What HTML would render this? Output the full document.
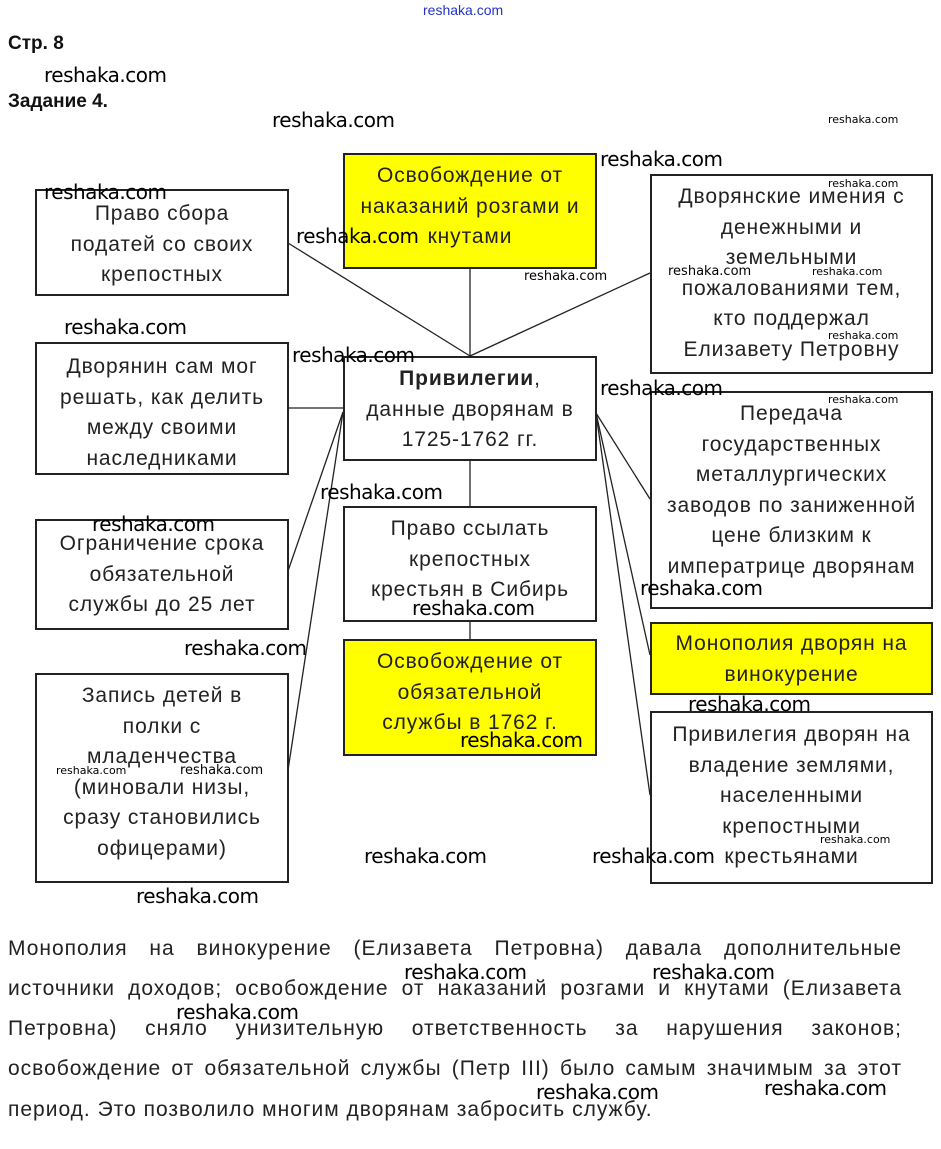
<!DOCTYPE html>
<html><head><meta charset="utf-8"><style>
html,body{margin:0;padding:0;background:#fff;}
body{width:941px;height:1149px;position:relative;overflow:hidden;font-family:"Liberation Sans",Arial,sans-serif;color:#111;}
.b{position:absolute;border:2px solid #222;box-sizing:border-box;background:#fff;text-align:center;font-size:21px;letter-spacing:0.9px;line-height:30.5px;color:#222;white-space:nowrap;}
.y{background:#ffff00;}
.w{position:absolute;font-family:"DejaVu Sans","Liberation Sans",sans-serif;font-size:20px;color:#000;white-space:nowrap;letter-spacing:-0.5px;}
.s{position:absolute;font-family:"DejaVu Sans","Liberation Sans",sans-serif;font-size:11px;color:#000;white-space:nowrap;}
.p{position:absolute;left:8px;width:894px;font-size:21px;letter-spacing:1px;line-height:28px;text-align:justify;text-align-last:justify;color:#222;white-space:nowrap;}
</style></head><body>
<div style="position:absolute;left:423px;top:2px;font-size:14px;color:#2233cc;">reshaka.com</div>
<div style="position:absolute;left:8px;top:33px;font-size:19px;font-weight:bold;">Стр. 8</div>
<div style="position:absolute;left:8px;top:91px;font-size:19px;font-weight:bold;">Задание 4.</div>

<svg style="position:absolute;left:0;top:0" width="941" height="1149">
<g stroke="#222" stroke-width="1.3" fill="none">
<line x1="288" y1="243" x2="470" y2="356"/>
<line x1="650" y1="273" x2="470" y2="356"/>
<line x1="470" y1="268" x2="470" y2="356"/>
<line x1="288" y1="408" x2="343" y2="408"/>
<line x1="343" y1="412" x2="288" y2="571"/>
<line x1="343" y1="412" x2="288" y2="770"/>
<line x1="470" y1="460" x2="470" y2="506"/>
<line x1="470" y1="621" x2="470" y2="639"/>
<line x1="596" y1="413" x2="650" y2="499"/>
<line x1="596" y1="413" x2="650" y2="655"/>
<line x1="596" y1="413" x2="650" y2="795"/>
</g></svg>

<div class="b" style="left:35px;top:189px;width:254px;height:107px;padding-top:8px;">Право сбора<br>податей со своих<br>крепостных</div>
<div class="b" style="left:35px;top:342px;width:254px;height:133px;padding-top:8px;">Дворянин сам мог<br>решать, как делить<br>между своими<br>наследниками</div>
<div class="b" style="left:35px;top:519px;width:254px;height:111px;padding-top:8px;">Ограничение срока<br>обязательной<br>службы до 25 лет</div>
<div class="b" style="left:35px;top:673px;width:254px;height:210px;padding-top:6px;">Запись детей в<br>полки с<br>младенчества<br>(миновали низы,<br>сразу становились<br>офицерами)</div>

<div class="b y" style="left:343px;top:153px;width:254px;height:116px;padding-top:6px;">Освобождение от<br>наказаний розгами и<br>кнутами</div>
<div class="b" style="left:343px;top:356px;width:254px;height:105px;padding-top:6px;"><b>Привилегии</b>,<br>данные дворянам в<br>1725-1762 гг.</div>
<div class="b" style="left:343px;top:506px;width:254px;height:116px;padding-top:6px;">Право ссылать<br>крепостных<br>крестьян в Сибирь</div>
<div class="b y" style="left:343px;top:639px;width:254px;height:117px;padding-top:6px;">Освобождение от<br>обязательной<br>службы в 1762 г.</div>

<div class="b" style="left:650px;top:174px;width:283px;height:200px;padding-top:6px;">Дворянские имения с<br>денежными и<br>земельными<br>пожалованиями тем,<br>кто поддержал<br>Елизавету Петровну</div>
<div class="b" style="left:650px;top:391px;width:283px;height:218px;padding-top:6px;">Передача<br>государственных<br>металлургических<br>заводов по заниженной<br>цене близким к<br>императрице дворянам</div>
<div class="b y" style="left:650px;top:622px;width:283px;height:73px;padding-top:5px;">Монополия дворян на<br>винокурение</div>
<div class="b" style="left:650px;top:711px;width:283px;height:173px;padding-top:7px;">Привилегия дворян на<br>владение землями,<br>населенными<br>крепостными<br>крестьянами</div>

<div class="p" style="top:935px;">Монополия на винокурение (Елизавета Петровна) давала дополнительные</div>
<div class="p" style="top:975px;">источники доходов; освобождение от наказаний розгами и кнутами (Елизавета</div>
<div class="p" style="top:1015px;">Петровна) сняло унизительную ответственность за нарушения законов;</div>
<div class="p" style="top:1055px;">освобождение от обязательной службы (Петр III) было самым значимым за этот</div>
<div class="p" style="top:1096px;text-align:left;text-align-last:left;">период. Это позволило многим дворянам забросить службу.</div>

<div class="w" style="left:44px;top:63px;">reshaka.com</div>
<div class="w" style="left:272px;top:108px;">reshaka.com</div>
<div class="s" style="left:828px;top:113px;">reshaka.com</div>
<div class="w" style="left:600px;top:147px;">reshaka.com</div>
<div class="w" style="left:44px;top:180px;">reshaka.com</div>
<div class="s" style="left:828px;top:177px;">reshaka.com</div>
<div class="w" style="left:296px;top:224px;">reshaka.com</div>
<div class="s" style="left:524px;top:269px;font-size:13px;">reshaka.com</div>
<div class="s" style="left:668px;top:264px;font-size:13px;">reshaka.com</div>
<div class="s" style="left:812px;top:265px;">reshaka.com</div>
<div class="w" style="left:64px;top:315px;">reshaka.com</div>
<div class="s" style="left:828px;top:329px;">reshaka.com</div>
<div class="w" style="left:292px;top:343px;">reshaka.com</div>
<div class="w" style="left:600px;top:376px;">reshaka.com</div>
<div class="s" style="left:828px;top:393px;">reshaka.com</div>
<div class="w" style="left:320px;top:480px;">reshaka.com</div>
<div class="w" style="left:92px;top:512px;">reshaka.com</div>
<div class="w" style="left:640px;top:576px;">reshaka.com</div>
<div class="w" style="left:412px;top:596px;">reshaka.com</div>
<div class="w" style="left:184px;top:636px;">reshaka.com</div>
<div class="w" style="left:688px;top:692px;">reshaka.com</div>
<div class="w" style="left:460px;top:728px;">reshaka.com</div>
<div class="s" style="left:56px;top:764px;">reshaka.com</div>
<div class="s" style="left:180px;top:763px;font-size:13px;">reshaka.com</div>
<div class="s" style="left:820px;top:833px;">reshaka.com</div>
<div class="w" style="left:364px;top:844px;">reshaka.com</div>
<div class="w" style="left:592px;top:844px;">reshaka.com</div>
<div class="w" style="left:136px;top:884px;">reshaka.com</div>
<div class="w" style="left:404px;top:960px;">reshaka.com</div>
<div class="w" style="left:652px;top:960px;">reshaka.com</div>
<div class="w" style="left:176px;top:1000px;">reshaka.com</div>
<div class="w" style="left:764px;top:1076px;">reshaka.com</div>
<div class="w" style="left:536px;top:1080px;">reshaka.com</div>
</body></html>
